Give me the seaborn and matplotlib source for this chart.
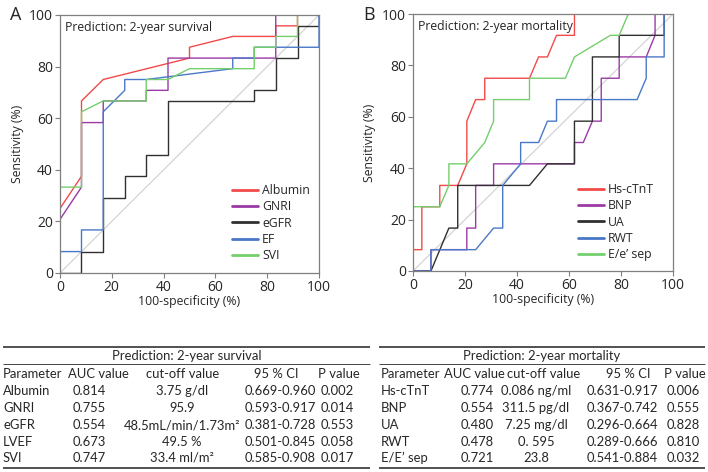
import matplotlib
matplotlib.use("Agg")
import matplotlib.pyplot as plt
import seaborn as sns
import pandas as pd

# ---------------- ROC data: panel A (2-year survival) ----------------
alb_x = [0, 0, 8.3, 8.3, 16.7, 50, 50, 66.7, 83.3, 83.3, 91.7, 91.7, 100]
alb_y = [0, 25, 37.5, 66.7, 75, 83.3, 87.5, 91.7, 91.7, 95.8, 95.8, 100, 100]
gnri_x = [0, 0, 8.3, 8.3, 16.7, 16.7, 33.3, 33.3, 41.7, 41.7, 83.3, 83.3, 100]
gnri_y = [0, 20.8, 33.3, 58.3, 58.3, 66.7, 66.7, 70.8, 70.8, 83.3, 83.3, 100, 100]
egfr_x = [0, 8.3, 8.3, 16.7, 16.7, 25, 25, 33.3, 33.3, 41.7, 41.7, 75, 75, 83.3, 83.3, 91.7, 91.7, 100, 100]
egfr_y = [0, 0, 8.3, 8.3, 29.2, 29.2, 37.5, 37.5, 45.8, 45.8, 66.7, 66.7, 70.8, 70.8, 83.3, 83.3, 95.8, 95.8, 100]
ef_x = [0, 0, 8.3, 8.3, 16.7, 16.7, 25, 25, 33.3, 66.7, 66.7, 75, 75, 100, 100]
ef_y = [0, 8.3, 8.3, 16.7, 16.7, 62.5, 70.8, 75, 75, 79.2, 83.3, 83.3, 87.5, 87.5, 100]
svi_x = [0, 0, 8.3, 8.3, 16.7, 33.3, 33.3, 41.7, 50, 75, 75, 83.3, 83.3, 91.7, 91.7, 100]
svi_y = [0, 33.3, 33.3, 62.5, 66.7, 66.7, 75, 75, 79.2, 79.2, 87.5, 87.5, 91.7, 91.7, 100, 100]

# ---------------- ROC data: panel B (2-year mortality) ----------------
tnt_x = [0, 0, 3.4, 3.4, 10.3, 10.3, 17.2, 20.7, 20.7, 24.1, 27.6, 27.6, 44.8, 48.3, 51.7, 55.2, 62.1, 62.1, 100]
tnt_y = [0, 8.3, 8.3, 25, 25, 33.3, 33.3, 41.7, 58.3, 66.7, 66.7, 75, 75, 83.3, 83.3, 91.7, 91.7, 100, 100]
bnp_x = [0, 6.9, 6.9, 20.7, 20.7, 24.1, 24.1, 31.0, 31.0, 62.1, 62.1, 65.5, 69.0, 72.4, 72.4, 79.3, 79.3, 89.7, 93.1, 93.1, 100]
bnp_y = [0, 0, 8.3, 8.3, 16.7, 16.7, 33.3, 33.3, 41.7, 41.7, 50, 50, 58.3, 58.3, 75, 75, 83.3, 83.3, 91.7, 100, 100]
ua_x = [0, 6.9, 13.8, 17.2, 17.2, 44.8, 51.7, 62.1, 62.1, 69.0, 69.0, 79.3, 79.3, 96.6, 96.6, 100]
ua_y = [0, 0, 16.7, 16.7, 33.3, 33.3, 41.7, 41.7, 58.3, 58.3, 83.3, 83.3, 91.7, 91.7, 100, 100]
rwt_x = [0, 6.9, 6.9, 24.1, 31.0, 34.5, 34.5, 41.4, 41.4, 48.3, 51.7, 55.2, 55.2, 86.2, 89.7, 89.7, 96.6, 96.6, 100]
rwt_y = [0, 0, 8.3, 8.3, 16.7, 16.7, 33.3, 41.7, 50, 50, 58.3, 58.3, 66.7, 66.7, 75, 83.3, 83.3, 100, 100]
ee_x = [0, 0, 10.3, 13.8, 13.8, 20.7, 27.6, 31.0, 31.0, 44.8, 44.8, 58.6, 62.1, 75.9, 79.3, 82.8, 100]
ee_y = [0, 25, 25, 33.3, 41.7, 41.7, 50, 58.3, 66.7, 66.7, 75, 75, 83.3, 91.7, 91.7, 100, 100]

ticks = [0, 20, 40, 60, 80, 100]

# ---------------- table data ----------------
hdr = ["Parameter", "AUC value", "cut-off value", "95 % CI", "P value"]

surv_param = ["Albumin", "GNRI", "eGFR", "LVEF", "SVI"]
surv_auc = ["0.814", "0.755", "0.554", "0.673", "0.747"]
surv_cut = ["3.75 g/dl", "95.9", "48.5mL/min/1.73m\u00b2", "49.5 %", "33.4 ml/m\u00b2"]
surv_ci = ["0.669-0.960", "0.593-0.917", "0.381-0.728", "0.501-0.845", "0.585-0.908"]
surv_p = ["0.002", "0.014", "0.553", "0.058", "0.017"]

mort_param = ["Hs-cTnT", "BNP", "UA", "RWT", "E/E\u2019 sep"]
mort_auc = ["0.774", "0.554", "0.480", "0.478", "0.721"]
mort_cut = ["0.086 ng/ml", "311.5 pg/dl", "7.25 mg/dl", "0. 595", "23.8"]
mort_ci = ["0.631-0.917", "0.367-0.742", "0.296-0.664", "0.289-0.666", "0.541-0.884"]
mort_p = ["0.006", "0.555", "0.828", "0.810", "0.032"]

RED, PURPLE, BLACK, BLUE, GREEN = "#f24a4a", "#9a3aa6", "#303030", "#4a78c8", "#74cf6c"

sns.set_style("white")
plt.rcParams["font.family"] = ["Open Sans", "DejaVu Sans"]

W, H = 708, 472
fig = plt.figure(figsize=(W / 100, H / 100), dpi=100)


def px_axes(l, t, r, b):
    return fig.add_axes([l / W, 1 - b / H, (r - l) / W, (b - t) / H])


def roc_panel(ax, curves, title, letter, leg_anchor):
    ax.plot([0, 100], [0, 100], color="#d4d4d4", lw=0.9, zorder=1)
    for name, xs, ys, col in curves:
        df = pd.DataFrame({"x": xs, "y": ys})
        sns.lineplot(data=df, x="x", y="y", sort=False, estimator=None,
                     color=col, lw=1.0, label=name, ax=ax)
    ax.set_xlim(0, 100)
    ax.set_ylim(0, 100)
    ax.set_xticks(ticks)
    ax.set_yticks(ticks)
    ax.tick_params(axis="both", labelsize=10, length=3.5, width=0.8,
                   color="#7f7f7f", pad=1.5, bottom=True, left=True)
    for s in ax.spines.values():
        s.set_color("#7f7f7f")
        s.set_linewidth(0.9)
    ax.set_xlabel("100-specificity (%)", fontsize=8.8, labelpad=0)
    ax.set_ylabel("Sensitivity (%)", fontsize=8.8, labelpad=4)
    ax.text(0.018, 0.978, title, transform=ax.transAxes, fontsize=8.8,
            va="top", ha="left")
    leg = ax.legend(loc="upper left", bbox_to_anchor=leg_anchor, frameon=False,
                    fontsize=8.8, handlelength=2.1, handletextpad=0.35,
                    labelspacing=0.27, borderaxespad=0, borderpad=0)
    for ln in leg.get_lines():
        ln.set_linewidth(2.0)
    fig.text(ax.get_position().x0 - 50 / W, 0.988, letter, fontsize=13,
             va="top", ha="left")


axA = px_axes(60, 15, 319, 273)
roc_panel(axA, [("Albumin", alb_x, alb_y, RED), ("GNRI", gnri_x, gnri_y, PURPLE),
                ("eGFR", egfr_x, egfr_y, BLACK), ("EF", ef_x, ef_y, BLUE),
                ("SVI", svi_x, svi_y, GREEN)],
          "Prediction: 2-year survival", "A", (0.664, 0.345))

axB = px_axes(413, 14, 673, 271)
roc_panel(axB, [("Hs-cTnT", tnt_x, tnt_y, RED), ("BNP", bnp_x, bnp_y, PURPLE),
                ("UA", ua_x, ua_y, BLACK), ("RWT", rwt_x, rwt_y, BLUE),
                ("E/e\u2019 sep", ee_x, ee_y, GREEN)],
          "Prediction: 2-year mortality", "B", (0.635, 0.342))

# ---------------- tables ----------------
axT = fig.add_axes([0, 0, 1, 1])
axT.set_xlim(0, W)
axT.set_ylim(H, 0)
axT.axis("off")

TFONT = ["Lato", "DejaVu Sans"]
FS = 9.4


def draw_table(x0, x1, title, cols, rows, col_x, col_ha, hdr_x):
    axT.hlines(347, x0, x1, color="#222222", lw=1.1)
    axT.hlines(364, x0, x1, color="#444444", lw=0.7)
    axT.hlines(468, x0, x1, color="#222222", lw=1.1)
    axT.text((x0 + x1) / 2, 356, title, ha="center", va="center",
             fontsize=FS, family=TFONT)
    for h, hx, ha in zip(cols, hdr_x, col_ha):
        axT.text(hx, 373.5, h, ha=ha, va="center", fontsize=FS, family=TFONT)
    row_y = [391, 408, 425, 442, 458]
    for i, ry in enumerate(row_y):
        for c, (cx, ha) in enumerate(zip(col_x, col_ha)):
            axT.text(cx, ry, rows[c][i], ha=ha, va="center", fontsize=FS,
                     family=TFONT)


draw_table(3, 370, "Prediction: 2-year survival", hdr,
           [surv_param, surv_auc, surv_cut, surv_ci, surv_p],
           [3, 89, 182, 280, 337], ["left", "center", "center", "center", "center"],
           [3, 98, 183, 276, 339])

draw_table(379, 705, "Prediction: 2-year mortality", hdr,
           [mort_param, mort_auc, mort_cut, mort_ci, mort_p],
           [381, 477, 536, 622, 683], ["left", "center", "center", "center", "center"],
           [381, 474, 544, 628, 685])

fig.savefig("out.png", dpi=100)
